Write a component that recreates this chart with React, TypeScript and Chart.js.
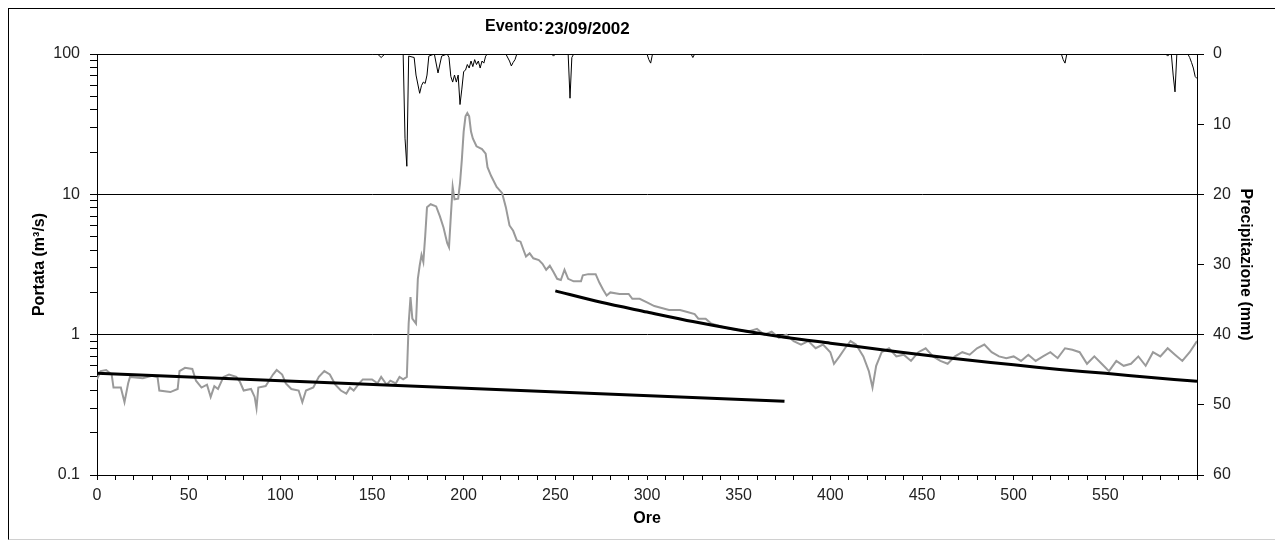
import React, { useEffect, useRef } from "react";
import { Chart, registerables } from "chart.js";

Chart.register(...registerables);

const TITLE_LABEL = "Evento:";
const TITLE_DATE = "23/09/2002";
const X_TITLE = "Ore";
const Y_LEFT_TITLE = "Portata (m³/s)";
const Y_RIGHT_TITLE = "Precipitazione (mm)";

// Discharge (grey line), hours and m3/s
const flowHours = [
  0, 2, 5, 8, 9, 13, 15, 17, 18, 25, 30, 33, 34, 40, 44, 45, 48, 52, 54, 57, 60, 62, 64, 66, 69, 72, 76, 78, 80, 84, 86, 87, 88, 92,
  96, 98, 101, 103, 106, 110, 112, 114, 118, 121, 124, 127, 130, 133, 136, 138, 140, 143, 145, 150, 153, 155, 158, 160, 163, 165, 167,
  169, 170, 171, 172, 174, 175, 176, 177, 178, 179, 180, 182, 185, 187, 189, 191, 192, 193, 194, 195, 197, 198, 199, 200, 201, 202,
  203, 204, 205, 207, 210, 212, 213, 215, 218, 221, 223, 225, 227, 229, 231, 233, 234, 236, 238, 241, 243, 245, 247, 249, 251, 253,
  255, 257, 260, 264, 265, 268, 272, 274, 276, 278, 280, 285, 290, 292, 296, 300, 304, 308, 312, 318, 322, 326, 328, 332, 335, 340,
  345, 350, 355, 360, 364, 368, 372, 376, 380, 384, 388, 392, 396, 400, 402, 405, 408, 411, 414, 418, 421, 423, 425, 428, 432, 436,
  440, 444, 448, 452, 456, 460, 464, 468, 472, 476, 480, 484, 488, 492, 496, 500, 504, 508, 512, 516, 520, 524, 528, 532, 536, 540,
  544, 548, 552, 556, 560, 564, 568, 572, 576, 580, 584, 588, 592, 596, 600,
];
const flowValues = [
  0.48, 0.55, 0.56, 0.52, 0.42, 0.42, 0.33, 0.45, 0.5, 0.49, 0.51, 0.5, 0.4, 0.39, 0.41, 0.55, 0.58, 0.57, 0.47, 0.42, 0.44, 0.36,
  0.43, 0.41, 0.5, 0.52, 0.5, 0.46, 0.4, 0.41, 0.36, 0.3, 0.42, 0.43, 0.52, 0.56, 0.52, 0.45, 0.41, 0.4, 0.33, 0.4, 0.42, 0.5, 0.55,
  0.52, 0.44, 0.4, 0.38, 0.42, 0.4, 0.45, 0.48, 0.48, 0.45, 0.5, 0.44, 0.47, 0.45, 0.5, 0.48, 0.5, 1.2, 1.85, 1.3, 1.2, 2.5, 3.1, 3.7,
  3.3, 5, 8.1, 8.5, 8.2, 7, 5.8, 4.5, 4.2, 7, 11.3, 9.2, 9.3, 12, 17.6, 28, 36, 38, 36, 28, 25, 22, 21, 19.5, 15.6, 13.5, 11.3, 10.2,
  8.1, 6, 5.5, 4.7, 4.6, 3.9, 3.6, 3.8, 3.5, 3.4, 3.2, 2.9, 3.1, 2.8, 2.5, 2.45, 2.9, 2.5, 2.4, 2.4, 2.65, 2.7, 2.7, 2.35, 2.1, 1.9,
  2.0, 1.95, 1.95, 1.8, 1.8, 1.7, 1.6, 1.55, 1.5, 1.5, 1.45, 1.4, 1.3, 1.3, 1.2, 1.15, 1.1, 1.08, 1.05, 1.1, 1.0, 1.05, 0.95, 1.0,
  0.9, 0.85, 0.9, 0.8, 0.85, 0.75, 0.62, 0.7, 0.8, 0.9, 0.85, 0.7, 0.55, 0.42, 0.6, 0.75, 0.8, 0.7, 0.72, 0.65, 0.75, 0.8, 0.7, 0.65,
  0.62, 0.7, 0.75, 0.72, 0.8, 0.85, 0.75, 0.7, 0.68, 0.7, 0.65, 0.72, 0.65, 0.7, 0.75, 0.68, 0.8, 0.78, 0.75, 0.62, 0.7, 0.62, 0.55,
  0.65, 0.6, 0.62, 0.7, 0.6, 0.75, 0.7, 0.8, 0.72, 0.65, 0.75, 0.9,
];

// Precipitation (thin black line, right reversed axis), hours and mm
const rainHours = [
  0, 153, 155, 157, 167, 168, 169, 170, 173, 174, 176, 177, 178, 179, 180, 181, 184, 186, 188, 191, 192, 193, 194, 195, 196, 197, 198,
  199, 200, 201, 202, 203, 204, 205, 206, 207, 208, 209, 210, 211, 212, 213, 223, 225, 226, 227, 228, 229, 248, 249, 250, 257, 258,
  259, 260, 300, 301, 302, 303, 324, 325, 326, 526, 527, 528, 529, 583, 584, 585, 586, 587, 588, 589, 595, 596, 597, 598, 599, 600,
];
const rainValues = [
  0, 0, 0.5, 0, 0, 12, 16, 0.3, 0.5, 3, 5.6, 4.5, 4, 4.2, 3, 0.3, 0, 2.7, 0.3, 0, 0.5, 3.2, 4, 3, 4, 3, 7.2, 5, 2.5, 2.3, 1.5, 2, 1,
  1.8, 0.8, 1.5, 1, 2, 1, 1.3, 0.3, 0, 0, 1, 1.7, 1.2, 0.8, 0, 0, 0.3, 0, 0, 6.3, 0.5, 0, 0, 0.8, 1.3, 0, 0, 0.5, 0, 0, 0.8, 1.3, 0,
  0, 0.3, 0, 0, 3, 5.4, 0, 0, 0.5, 1.2, 2, 3.2, 3.5,
];

// Recession curves (thick black)
const recession1Hours = [0, 375];
const recession1Values = [0.53, 0.335];
const recession2Hours = [250, 275, 300, 325, 350, 375, 400, 425, 450, 475, 500, 525, 550, 575, 600];
const recession2Values = [2.05, 1.7, 1.45, 1.24, 1.08, 0.96, 0.87, 0.79, 0.72, 0.66, 0.61, 0.565, 0.53, 0.495, 0.465];

const logTickValues = [
  0.1, 0.2, 0.3, 0.4, 0.5, 0.6, 0.7, 0.8, 0.9, 1, 2, 3, 4, 5, 6, 7, 8, 9, 10, 20, 30, 40, 50, 60, 70, 80, 90, 100,
];
const logLabelValues = [0.1, 1, 10, 100];
const logGridValues = [1, 10, 100];

const FONT = "'Liberation Sans', Arial, Helvetica, sans-serif";
const TICK_FONT = { family: FONT, size: 16 };
const AXIS_TITLE_FONT = { family: FONT, size: 16, weight: "bold" };

const pts = (xs: number[], ys: number[]) => xs.map((x, i) => ({ x, y: ys[i] }));

const titlePlugin = {
  id: "eventTitle",
  afterDraw(chart: any) {
    const ctx = chart.ctx;
    ctx.save();
    ctx.fillStyle = "#000";
    ctx.textBaseline = "alphabetic";
    ctx.textAlign = "left";
    ctx.font = `bold 16px ${FONT}`;
    const x0 = 476;
    ctx.fillText(TITLE_LABEL, x0, 22);
    const w = ctx.measureText(TITLE_LABEL).width;
    ctx.font = `bold 17px ${FONT}`;
    ctx.fillText(TITLE_DATE, x0 + w + 1, 25);
    ctx.restore();
  },
};

export default function App() {
  const canvasRef = useRef<HTMLCanvasElement | null>(null);

  useEffect(() => {
    if (!canvasRef.current) return;
    const chart = new Chart(canvasRef.current, {
      type: "line",
      data: {
        datasets: [
          {
            label: "Precipitazione",
            data: pts(rainHours, rainValues),
            yAxisID: "yRain",
            borderColor: "#000",
            borderWidth: 1,
            pointRadius: 0,
            tension: 0,
            order: 0,
          },
          {
            label: "Recessione 1",
            data: pts(recession1Hours, recession1Values),
            yAxisID: "y",
            borderColor: "#000",
            borderWidth: 3,
            pointRadius: 0,
            tension: 0,
            order: 1,
          },
          {
            label: "Recessione 2",
            data: pts(recession2Hours, recession2Values),
            yAxisID: "y",
            borderColor: "#000",
            borderWidth: 3,
            pointRadius: 0,
            tension: 0.3,
            order: 1,
          },
          {
            label: "Portata",
            data: pts(flowHours, flowValues),
            yAxisID: "y",
            borderColor: "#9a9a9a",
            borderWidth: 2,
            pointRadius: 0,
            tension: 0,
            order: 2,
          },
        ],
      },
      options: {
        animation: false,
        responsive: false,
        layout: { padding: { top: 45, left: 0, right: 0, bottom: 0 } },
        plugins: {
          legend: { display: false },
          tooltip: { enabled: false },
          title: { display: false },
        },
        scales: {
          x: {
            type: "linear",
            position: "bottom",
            min: 0,
            max: 600,
            afterFit: (s: any) => {
              s.height = 64;
            },
            ticks: {
              stepSize: 10,
              autoSkip: false,
              maxRotation: 0,
              padding: 6,
              color: "#222",
              font: TICK_FONT,
              callback: (v: any) => (Number(v) % 50 === 0 && Number(v) < 600 ? String(v) : ""),
            },
            grid: { drawOnChartArea: false, tickLength: 5, tickColor: "#000" },
            border: { color: "#000", width: 1 },
            title: {
              display: true,
              text: X_TITLE,
              color: "#000",
              font: AXIS_TITLE_FONT,
              padding: { top: 0, bottom: 11 },
            },
          },
          y: {
            type: "logarithmic",
            position: "left",
            min: 0.1,
            max: 100,
            afterFit: (s: any) => {
              s.width = 88;
            },
            afterBuildTicks: (s: any) => {
              s.ticks = logTickValues.map((v) => ({ value: v, major: logLabelValues.includes(v) }));
            },
            ticks: {
              autoSkip: false,
              padding: 10,
              color: "#222",
              font: TICK_FONT,
              callback: (v: any) => (logLabelValues.includes(Number(v)) ? String(v) : ""),
            },
            grid: {
              color: (c: any) => (c.tick && logGridValues.includes(c.tick.value) ? "#000" : "rgba(0,0,0,0)"),
              tickColor: "#000",
              tickLength: 7,
              lineWidth: 1,
            },
            border: { color: "#000", width: 1 },
            title: {
              display: true,
              text: Y_LEFT_TITLE,
              color: "#000",
              font: AXIS_TITLE_FONT,
              padding: { top: 21, bottom: 0 },
            },
          },
          yRain: {
            type: "linear",
            position: "right",
            min: 0,
            max: 60,
            reverse: true,
            afterFit: (s: any) => {
              s.width = 78;
            },
            ticks: {
              stepSize: 10,
              padding: 9,
              color: "#222",
              font: TICK_FONT,
            },
            grid: { drawOnChartArea: false, tickLength: 7, tickColor: "#000" },
            border: { color: "#000", width: 1 },
            title: {
              display: true,
              text: Y_RIGHT_TITLE,
              color: "#000",
              font: AXIS_TITLE_FONT,
              padding: { top: 20, bottom: 0 },
            },
          },
        },
      } as any,
      plugins: [titlePlugin],
    });
    return () => chart.destroy();
  }, []);

  return (
    <div
      style={{
        width: 1266,
        height: 530,
        borderLeft: "1px solid #000",
        borderTop: "1px solid #000",
        borderBottom: "1px solid #d0d0d0",
        background: "#fff",
      }}
    >
      <canvas ref={canvasRef} width={1266} height={530} style={{ display: "block" }} />
    </div>
  );
}
